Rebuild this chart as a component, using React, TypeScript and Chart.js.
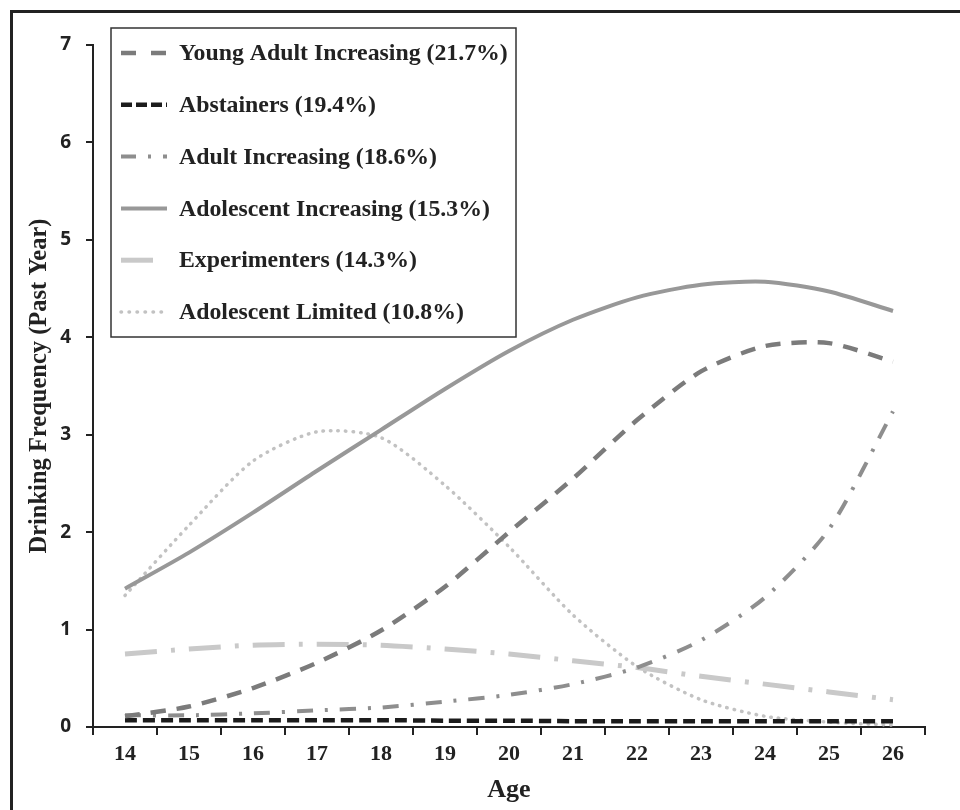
import React, { useEffect, useRef } from "react";
import { Chart, registerables } from "chart.js";

Chart.register(...registerables);

const ages = ["14", "15", "16", "17", "18", "19", "20", "21", "22", "23", "24", "25", "26"];

const youngAdultIncreasing = [0.11, 0.21, 0.4, 0.66, 0.99, 1.44, 2.0, 2.55, 3.15, 3.65, 3.91, 3.94, 3.75];
const abstainers = [0.07, 0.07, 0.07, 0.07, 0.07, 0.065, 0.065, 0.06, 0.06, 0.06, 0.06, 0.06, 0.06];
const adultIncreasing = [0.12, 0.12, 0.14, 0.17, 0.2, 0.26, 0.33, 0.44, 0.61, 0.89, 1.33, 2.03, 3.24];
const adolescentIncreasing = [1.42, 1.79, 2.2, 2.63, 3.05, 3.47, 3.86, 4.18, 4.41, 4.54, 4.57, 4.47, 4.27];
const experimenters = [0.75, 0.8, 0.84, 0.85, 0.84, 0.8, 0.75, 0.68, 0.61, 0.52, 0.44, 0.36, 0.28];
const adolescentLimited = [1.35, 2.07, 2.73, 3.03, 2.97, 2.48, 1.85, 1.15, 0.62, 0.28, 0.11, 0.05, 0.02];

const seriesLabels = [
  "Young Adult Increasing (21.7%)",
  "Abstainers (19.4%)",
  "Adult Increasing (18.6%)",
  "Adolescent Increasing (15.3%)",
  "Experimenters (14.3%)",
  "Adolescent Limited (10.8%)",
];

const xTitle = "Age";
const yTitle = "Drinking Frequency (Past Year)";

const SERIF = '"Liberation Serif", "Times New Roman", serif';

const legendDash: number[][] = [
  [15, 15],
  [11, 4],
  [15, 12, 3, 12],
  [],
  [32, 14, 4, 14],
  [0.5, 7.5],
];

const framePlugin = {
  id: "frame",
  beforeDraw(chart: any) {
    const ctx = chart.ctx;
    ctx.save();
    ctx.fillStyle = "#fff";
    ctx.fillRect(0, 0, chart.width, chart.height);
    ctx.fillStyle = "#222";
    ctx.fillRect(10, 10, chart.width - 10, 3);
    ctx.fillRect(10, 10, 3, chart.height - 10);
    ctx.restore();
  },
};

const boxLegendPlugin = {
  id: "boxLegend",
  afterDraw(chart: any) {
    const ctx = chart.ctx;
    const area = chart.chartArea;
    const left = area.left + 18;
    const top = area.top - 17;
    const w = 405;
    const h = 309;
    ctx.save();
    ctx.fillStyle = "#fff";
    ctx.fillRect(left, top, w, h);
    ctx.strokeStyle = "#333";
    ctx.lineWidth = 1.5;
    ctx.setLineDash([]);
    ctx.strokeRect(left, top, w, h);
    chart.data.datasets.forEach((ds: any, i: number) => {
      const y = top + 25 + i * 51.8;
      ctx.save();
      ctx.strokeStyle = ds.borderColor;
      ctx.lineWidth = ds.borderWidth;
      ctx.lineCap = ds.borderCapStyle || "butt";
      ctx.setLineDash(legendDash[i]);
      ctx.beginPath();
      ctx.moveTo(left + 10, y);
      ctx.lineTo(left + 56, y);
      ctx.stroke();
      ctx.restore();
      ctx.fillStyle = "#222";
      ctx.font = `bold 23.8px ${SERIF}`;
      ctx.textBaseline = "middle";
      ctx.textAlign = "left";
      ctx.fillText(ds.label, left + 68, y + 1);
    });
    ctx.restore();
  },
};

export default function App() {
  const canvasRef = useRef<HTMLCanvasElement | null>(null);

  useEffect(() => {
    if (!canvasRef.current) return;
    const chart = new Chart(canvasRef.current, {
      type: "line",
      data: {
        labels: ages,
        datasets: [
          {
            label: seriesLabels[0],
            data: youngAdultIncreasing,
            borderColor: "#7b7b7b",
            borderWidth: 4.5,
            borderDash: [15, 11],
          },
          {
            label: seriesLabels[1],
            data: abstainers,
            borderColor: "#1c1c1c",
            borderWidth: 4.5,
            borderDash: [12, 6],
          },
          {
            label: seriesLabels[2],
            data: adultIncreasing,
            borderColor: "#8e8e8e",
            borderWidth: 4,
            borderDash: [16, 12, 3, 12],
          },
          {
            label: seriesLabels[3],
            data: adolescentIncreasing,
            borderColor: "#989898",
            borderWidth: 4,
          },
          {
            label: seriesLabels[4],
            data: experimenters,
            borderColor: "#c9c9c9",
            borderWidth: 5,
            borderDash: [32, 14, 4, 14],
          },
          {
            label: seriesLabels[5],
            data: adolescentLimited,
            borderColor: "#c2c2c2",
            borderWidth: 3.5,
            borderDash: [0.5, 7],
            borderCapStyle: "round",
          },
        ],
      },
      options: {
        responsive: false,
        animation: false,
        layout: { padding: { left: 0, right: 35, top: 45, bottom: 0 } },
        elements: {
          point: { radius: 0, hoverRadius: 0 },
          line: { tension: 0.25, fill: false },
        },
        plugins: {
          legend: { display: false },
          tooltip: { enabled: false },
        },
        scales: {
          x: {
            type: "category",
            offset: true,
            grid: {
              offset: true,
              drawOnChartArea: false,
              drawTicks: true,
              tickLength: 8,
              color: "#222",
              lineWidth: 2,
            },
            border: { color: "#222", width: 2 },
            ticks: {
              font: { family: SERIF, weight: "bold", size: 22 },
              color: "#222",
              padding: 6,
              maxRotation: 0,
              autoSkip: false,
            },
            title: {
              display: true,
              text: xTitle,
              font: { family: SERIF, weight: "bold", size: 26 },
              color: "#222",
              padding: { top: 0, bottom: 4 },
            },
            afterFit: (s: any) => {
              s.height = 83;
            },
          },
          y: {
            min: 0,
            max: 7,
            grid: {
              drawOnChartArea: false,
              drawTicks: true,
              tickLength: 7,
              color: "#222",
              lineWidth: 2,
            },
            border: { color: "#222", width: 2 },
            ticks: {
              stepSize: 1,
              font: { family: '"Open Sans"', weight: "bold", size: 19 },
              color: "#222",
              padding: 15,
            },
            title: {
              display: true,
              text: yTitle,
              font: { family: SERIF, weight: "bold", size: 24.5 },
              color: "#222",
              padding: { top: 25, bottom: 0 },
            },
            afterFit: (s: any) => {
              s.width = 93;
            },
          },
        },
      },
      plugins: [framePlugin, boxLegendPlugin],
    } as any);
    return () => chart.destroy();
  }, []);

  return (
    <div style={{ position: "absolute", left: 0, top: 0, width: 960, height: 810 }}>
      <canvas ref={canvasRef} width={960} height={810} style={{ display: "block" }} />
    </div>
  );
}
